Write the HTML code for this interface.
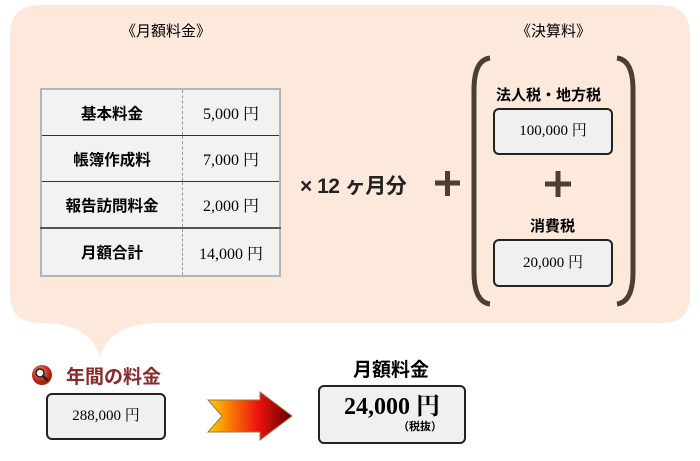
<!DOCTYPE html>
<html><head><meta charset="utf-8"><style>
body{margin:0;width:700px;height:461px;background:#fff;position:relative;overflow:hidden;font-family:"Liberation Sans","Noto Sans CJK JP",sans-serif;}
.a{position:absolute}
.b{font-weight:bold}
table{border-collapse:collapse;position:absolute;left:40px;top:88px;width:241px;height:189px;border:2px solid #b5b5b5;background:#f2f2f2}
td{border-bottom:1px solid #333;font-size:15px;text-align:center;padding:0}
td.l{width:140px;font-weight:bold;border-right:1px dashed #999;font-size:15.5px}
td.r{font-family:"Liberation Serif","Noto Serif CJK SC",serif;font-size:16px}
tr.t td{border-top:2px solid #555}
.box{position:absolute;background:#f0f0f0;border:2px solid #222;border-radius:6px;box-sizing:border-box;text-align:center;font-family:"Liberation Serif","Noto Serif CJK SC",serif}
</style></head><body>
<svg class="a" style="left:0;top:0" width="700" height="461">
<path d="M40 5 H660 Q690 5 690 35 V295 Q690 323 662 323 H160 Q110 323 100 357 Q90 323 40 323 Q10 323 10 295 V35 Q10 5 40 5Z" fill="#fde9dc"/>
<path d="M490 58 Q474 60 474 90 V272 Q474 302 490 304" stroke="#4a4030" stroke-width="5" fill="none"/>
<path d="M617 58 Q633 60 633 90 V272 Q633 302 617 304" stroke="#4a4030" stroke-width="5" fill="none"/>
<path d="M435 183 H460 M447.5 171 V196" stroke="#4a4030" stroke-width="5"/>
<path d="M545 184 H571 M558 171 V197" stroke="#4a4030" stroke-width="5"/>
<defs><linearGradient id="g" x1="0" x2="1"><stop offset="0" stop-color="#ffd000"/><stop offset="0.6" stop-color="#ee1010"/><stop offset="1" stop-color="#600000"/></linearGradient>
<radialGradient id="rg" cx="0.4" cy="0.35"><stop offset="0" stop-color="#ff8a70"/><stop offset="1" stop-color="#b02010"/></radialGradient></defs>
<path d="M208 400 H260 V392 L292 416 L260 440 V432 H208 L222 416Z" fill="url(#g)" stroke="#9a7a40" stroke-width="1"/>
<circle cx="42" cy="375" r="10" fill="url(#rg)"/>
<circle cx="40" cy="373" r="4" fill="#fff" stroke="#222" stroke-width="1.5"/>
<path d="M43 376 L48 381" stroke="#222" stroke-width="2.5"/>
</svg>
<div class="a" style="left:121px;top:20px;font-size:15px">《月額料金》</div>
<div class="a" style="left:516px;top:20px;font-size:15px">《決算料》</div>
<table>
<tr><td class="l">基本料金</td><td class="r">5,000 円</td></tr>
<tr><td class="l">帳簿作成料</td><td class="r">7,000 円</td></tr>
<tr><td class="l">報告訪問料金</td><td class="r">2,000 円</td></tr>
<tr class="t"><td class="l" style="border-bottom:none">月額合計</td><td class="r" style="border-bottom:none">14,000 円</td></tr>
</table>
<div class="a b" style="left:300px;top:170px;font-size:21px;color:#222;letter-spacing:-0.5px">× 12 ヶ月分</div>
<div class="a b" style="left:496px;top:84px;font-size:15px">法人税・地方税</div>
<div class="box" style="left:493px;top:108px;width:120px;height:47px;line-height:43px;font-size:15px">100,000 円</div>
<div class="a b" style="left:530px;top:215px;font-size:15px">消費税</div>
<div class="box" style="left:493px;top:239px;width:120px;height:48px;line-height:44px;font-size:15px">20,000 円</div>
<div class="a b" style="left:66px;top:362px;font-size:19px;color:#8b2a2a">年間の料金</div>
<div class="box" style="left:46px;top:393px;width:120px;height:47px;line-height:43px;font-size:15px">288,000 円</div>
<div class="a b" style="left:353px;top:355px;font-size:19px">月額料金</div>
<div class="box" style="left:318px;top:385px;width:148px;height:59px;font-size:24px;font-weight:bold">
<div style="margin-top:7px;line-height:27px">24,000 円</div>
<div style="font-size:11px;font-family:'Liberation Sans','Noto Sans CJK JP',sans-serif;text-align:right;padding-right:22px;line-height:12px">（税抜）</div></div>
</body></html>
